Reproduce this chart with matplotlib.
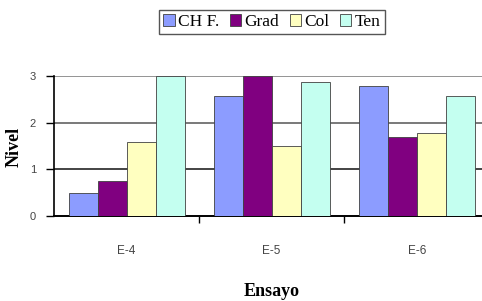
import numpy as np
import matplotlib.pyplot as plt

categories = ['E-4', 'E-5', 'E-6']
series = ['CH F.', 'Grad', 'Col', 'Ten']
ch_f = [0.5, 2.58, 2.78]
grad = [0.75, 3.0, 1.7]
col = [1.58, 1.5, 1.78]
ten = [3.0, 2.88, 2.58]
colors = ['#8c9cff', '#800080', '#ffffc0', '#c4fff0']

fig = plt.figure(figsize=(4.82, 3.01), dpi=100)
ax = fig.add_axes([54 / 482, 85 / 301, 428 / 482, 140 / 301])

x = np.arange(len(categories))
w = 0.2
for i, (vals, c, name) in enumerate(zip([ch_f, grad, col, ten], colors, series)):
    ax.bar(x + (i - 1.5) * w, vals, w, color=c, edgecolor='#404040',
           linewidth=0.6, label=name, zorder=3)

ax.set_xlim(-0.5, 2.45)
ax.set_ylim(0, 3)
ax.set_yticks([0, 1, 2, 3])
ax.set_yticklabels(['0', '1', '2', '3'], fontsize=8, color='#444444',
                   family='Liberation Sans')
ax.tick_params(axis='y', length=6, width=1, pad=7)
ax.set_xticks(x)
ax.set_xticklabels(categories, fontsize=8.5, color='#444444',
                   family='Liberation Sans')
ax.tick_params(axis='x', which='major', length=0, pad=21)
ax.set_xticks([0.5, 1.5], minor=True)
ax.tick_params(axis='x', which='minor', length=5, width=1)

for lv, lc in zip([1, 2, 3], ['#111111', '#555555', '#777777']):
    ax.axhline(lv, color=lc, linewidth=1.1, zorder=1)

for s in ['top', 'right']:
    ax.spines[s].set_visible(False)
ax.spines['left'].set_linewidth(1.2)
ax.spines['bottom'].set_linewidth(1.4)

fig.text(14 / 482, 1 - 147 / 301, 'Nivel', family='Liberation Serif',
         fontweight='bold', fontsize=13, rotation=90, ha='center', va='center')
fig.text(272 / 482, 1 - 292 / 301, 'Ensayo', family='Liberation Serif',
         fontweight='bold', fontsize=13, ha='center', va='center')

leg = fig.legend(loc='center', bbox_to_anchor=(272 / 482, 1 - 22 / 301),
                 ncol=4, prop={'family': 'Liberation Serif', 'size': 12.5},
                 handlelength=0.65, handleheight=0.65, handletextpad=0.2,
                 columnspacing=0.6, borderpad=0.25, fancybox=False,
                 edgecolor='#555555', framealpha=1)
leg.get_frame().set_linewidth(1.0)

fig.savefig('out.png', dpi=100)
